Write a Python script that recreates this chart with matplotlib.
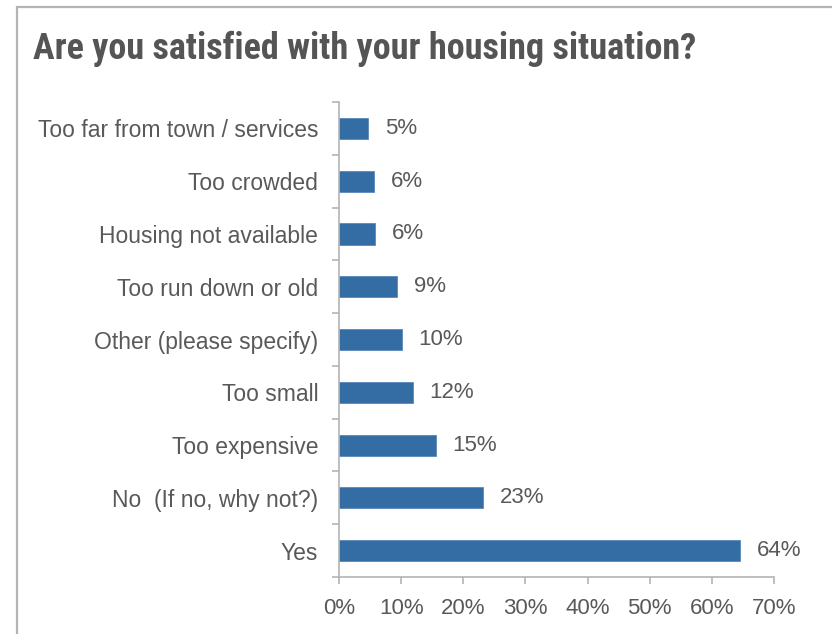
import numpy as np
import matplotlib
matplotlib.use('Agg')
import matplotlib.pyplot as plt
from matplotlib.patches import Rectangle

# 数据
categories = ['Too far from town / services', 'Too crowded', 'Housing not available',
              'Too run down or old', 'Other (please specify)', 'Too small',
              'Too expensive', 'No  (If no, why not?)', 'Yes']
values = [4.7, 5.7, 5.8, 9.3, 10.1, 11.9, 15.6, 23.2, 64.5]
value_labels = ['5%', '6%', '6%', '9%', '10%', '12%', '15%', '23%', '64%']
x_ticks = [0, 10, 20, 30, 40, 50, 60, 70]

text_color = '#595959'
axis_color = '#b4b4b4'
bar_color = '#346ca4'

plt.rcParams['font.family'] = ['Liberation Sans', 'DejaVu Sans']

fig = plt.figure(figsize=(8.32, 6.34), dpi=100)

# 外框
fig.patches.append(Rectangle((16.5 / 832, -0.1), 1.2, 1 - 6.5 / 634 + 0.1,
                             transform=fig.transFigure, fill=False,
                             edgecolor=axis_color, linewidth=1.6))

ax = fig.add_axes([339 / 832, 1 - 577 / 634, (774 - 339) / 832, (577 - 102) / 634])

n = len(categories)
y = np.arange(n)[::-1]
ax.barh(y, values, height=0.4, color=bar_color, edgecolor='#4a7fb5', linewidth=0.5)

# 数值标签
for yi, v, lab in zip(y, values, value_labels):
    ax.text(v + 2.7, yi, lab, ha='left', va='center', fontsize=16, color=text_color)

ax.set_xlim(0, 70)
ax.set_ylim(-0.5, n - 0.5)
ax.set_xticks(x_ticks)
ax.set_xticklabels([f'{t}%' for t in x_ticks], fontsize=16, color=text_color)
ax.set_yticks(y)
ax.set_yticklabels(categories, fontsize=16.5, color=text_color)
ax.set_yticks(np.arange(n + 1) - 0.5, minor=True)
ax.tick_params(axis='y', which='major', length=0, pad=15)
ax.tick_params(axis='y', which='minor', length=5, color=axis_color, width=1.2)
ax.tick_params(axis='x', which='major', length=5, color=axis_color, width=1.2, pad=10)

for s in ['top', 'right']:
    ax.spines[s].set_visible(False)
for s in ['left', 'bottom']:
    ax.spines[s].set_color(axis_color)
    ax.spines[s].set_linewidth(1.2)

fig.text(33 / 832, 1 - 49 / 634, 'Are you satisfied with your housing situation?',
         fontsize=26, fontweight='bold', color='#555555', ha='left', va='center',
         family=['Roboto Condensed', 'DejaVu Sans'])

plt.savefig('out.png', dpi=100)
